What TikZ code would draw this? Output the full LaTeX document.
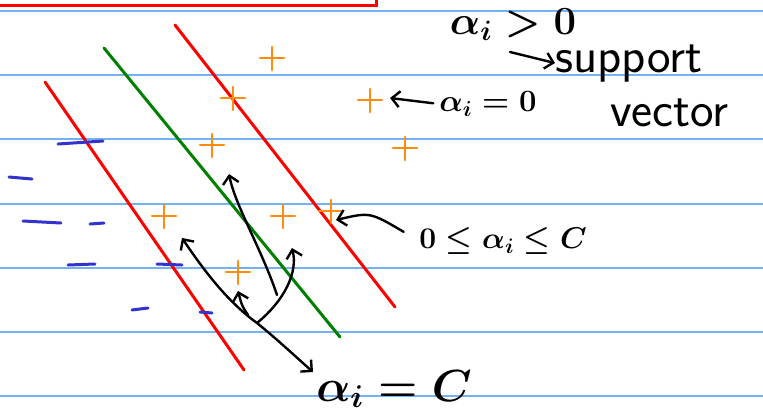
\RequirePackage{fix-cm}
\documentclass[tikz,border=0pt]{standalone}
\usepackage{amsmath,amssymb}
\usepackage{tikz}
\usetikzlibrary{arrows.meta,positioning}
\definecolor{inkred}{rgb}{1.00,0.00,0.00}
\definecolor{inkgreen}{rgb}{0.00,0.50,0.00}
\definecolor{inkorange}{rgb}{1.00,0.55,0.05}
\definecolor{inkblue}{rgb}{0.20,0.20,0.80}
\definecolor{ruleblue}{rgb}{0.45,0.70,0.95}

\begin{document}
\begin{tikzpicture}[x=1pt,y=-1pt,
    ruled/.style={ruleblue, line width=1.3pt},
    margin/.style={inkred, line width=3pt, line cap=round},
    hyper/.style={line width=3pt, line cap=round},
    ink/.style={black, line width=2.4pt, line cap=round, line join=round},
    negink/.style={inkblue, line width=3pt, line cap=round},
    barb/.style={-{Straight Barb[length=8pt,width=16pt]}},
    twobarb/.style={{Straight Barb[length=8pt,width=16pt]}-{Straight Barb[length=8pt,width=16pt]}},
    hand/.style={inner sep=0pt, anchor=center},
    posmark/.pic={\draw[inkorange, line width=2.6pt, line cap=round]
        (-12,0) -- (12,0) (0,-11) -- (0,12);}
  ]
  \fill[white] (0,0) rectangle (763,416);
  \useasboundingbox (0,0) rectangle (763,416);
  \clip (0,0) rectangle (763,416);

  \draw[ruled] (0,11) -- (763,11);
  \draw[ruled] (0,75) -- (763,75);
  \draw[ruled] (0,139) -- (763,139);
  \draw[ruled] (0,204) -- (763,204);
  \draw[ruled] (0,268) -- (763,268);
  \draw[ruled] (0,332) -- (763,332);
  \draw[ruled] (0,396) -- (763,396);

  \draw[margin] (-10,-40) rectangle (376,5);

  \draw[hyper, inkred]   (45,82)  -- (244,370);
  \draw[hyper, inkgreen] (104,48) -- (340,337);
  \draw[hyper, inkred]   (175,25) -- (395,307);

  \pic at (272,58)  {posmark};
  \pic at (233,98)  {posmark};
  \pic at (212,145) {posmark};
  \pic at (370,100) {posmark};
  \pic at (405,148) {posmark};
  \pic at (164,216) {posmark};
  \pic at (283,216) {posmark};
  \pic at (331,211) {posmark};
  \pic at (238,272) {posmark};

  \draw[negink] (58,144) -- (103,141);
  \draw[negink] (9,177)  -- (32,179);
  \draw[negink] (23,221) -- (61,223);
  \draw[negink] (90,224) -- (104,223);
  \draw[negink] (68,265) -- (95,264);
  \draw[negink] (157,264) -- (182,265);
  \draw[negink] (132,310) -- (148,308);
  \draw[negink] (200,312) -- (212,313);

  \node[hand, font=\fontsize{40}{40}\selectfont\boldmath] (gtzero) at (513,25) {$\alpha_i > 0$};
  \node[inner sep=0pt, anchor=base west, font=\sffamily\fontsize{50}{50}\selectfont]
    (support) at (555,72) {support};
  \node[inner sep=0pt, anchor=base west, font=\sffamily\fontsize{50}{50}\selectfont]
    (vector) at (610,126) {vector};
  \node[hand, font=\fontsize{31}{31}\selectfont\boldmath] (eqzero) at (488,104) {$\alpha_i = 0$};
  \node[hand, font=\fontsize{30}{30}\selectfont\boldmath] (between) at (503,241) {$0 \leq \alpha_i \leq C$};
  \node[hand, font=\fontsize{45}{45}\selectfont\boldmath] (eqC) at (394,389) {$\alpha_i = C$};

  \coordinate (svtail) at (510,52);
  \coordinate (tipzero) at (390,98);
  \coordinate (tipmid) at (336,220);
  \coordinate (hub) at (257,323);
  \coordinate (tipup) at (182,238);
  \coordinate (tipdown) at (313,372);
  \coordinate (smalltail) at (248,315);
  \coordinate (smalltip) at (238,291);
  \coordinate (righttip) at (292,248);
  \coordinate (longtail) at (277,295);
  \coordinate (longtip) at (229,174);

  \draw[ink, barb] (svtail) -- (support.west);
  \draw[ink, barb, shorten <=6pt] (eqzero.west) -- (tipzero);
  \draw[ink, barb, shorten <=18pt] (between.west) .. controls (370,212) .. (tipmid);

  \draw[ink, twobarb] (tipup) .. controls (205,272) and (228,302) .. (hub)
    .. controls (278,340) and (296,357) .. (tipdown);
  \draw[ink, barb] (smalltail) .. controls (242,306) .. (smalltip);
  \draw[ink, barb] (hub) .. controls (285,300) and (298,272) .. (righttip);
  \draw[ink, barb] (longtail) .. controls (262,250) and (235,205) .. (longtip);
\end{tikzpicture}
\end{document}
